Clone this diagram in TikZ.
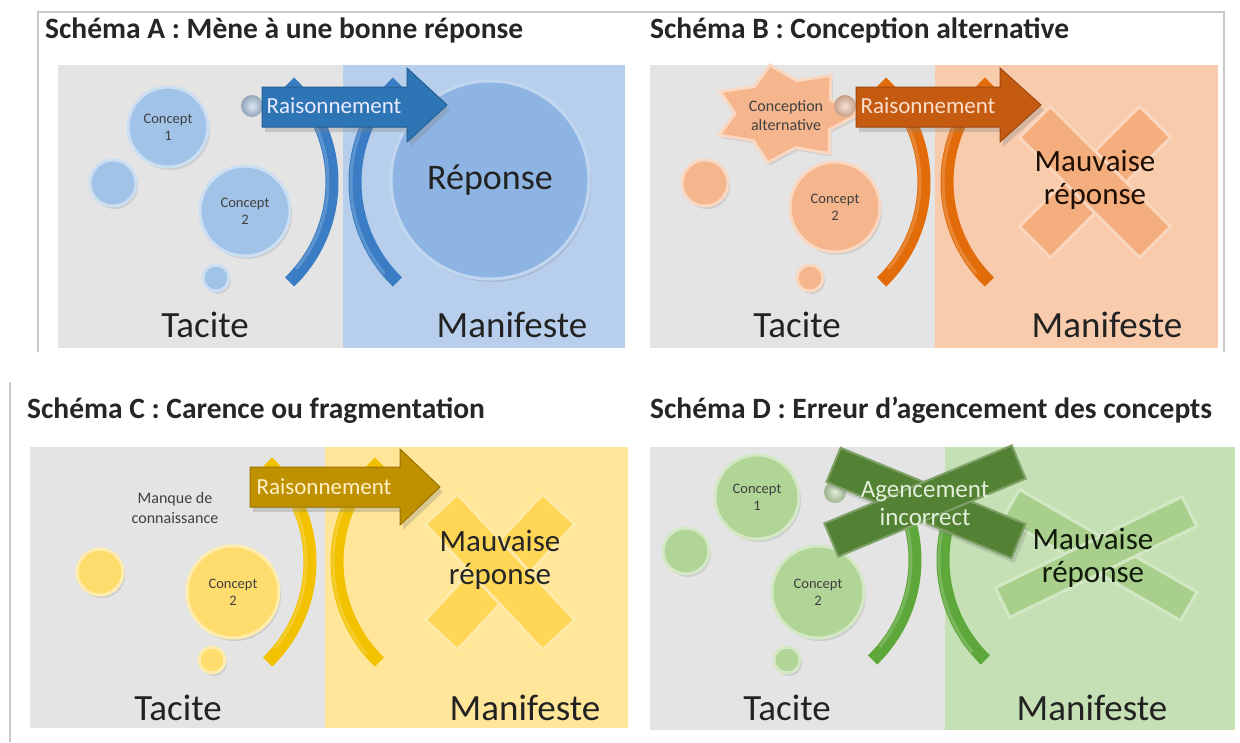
\documentclass[tikz,border=0pt]{standalone}
\usepackage{fontspec}
\setmainfont{Carlito}
\usetikzlibrary{shapes.geometric,shadows}

% pane and frame colours
\definecolor{paneGray}{HTML}{E4E4E4}
\definecolor{frameGray}{HTML}{C9C9C9}
\definecolor{inkDark}{HTML}{222222}
% blue set (A)
\definecolor{bluePane}{HTML}{B7CFEC}
\definecolor{blueBub}{HTML}{A2C3E8}
\definecolor{blueBig}{HTML}{8EB4E3}
\definecolor{blueArrow}{HTML}{2E75B6}
\definecolor{blueBand}{HTML}{3A7DC4}
% orange set (B)
\definecolor{orangePane}{HTML}{F8CBAD}
\definecolor{orangeBub}{HTML}{F5B68E}
\definecolor{orangeArrow}{HTML}{C55A11}
\definecolor{orangeBand}{HTML}{E36C0A}
\definecolor{orangeCross}{HTML}{F4AE7E}
% yellow set (C)
\definecolor{yellowPane}{HTML}{FFE699}
\definecolor{yellowBub}{HTML}{FFDC6E}
\definecolor{yellowArrow}{HTML}{BF9000}
\definecolor{yellowBand}{HTML}{F2C200}
\definecolor{yellowCross}{HTML}{FFD655}
% green set (D)
\definecolor{greenPane}{HTML}{C5E0B4}
\definecolor{greenBub}{HTML}{B0D597}
\definecolor{greenDark}{HTML}{548235}
\definecolor{greenBand}{HTML}{5EA73A}
\definecolor{greenCross}{HTML}{A8D08C}

\newcommand\fs[2]{\fontsize{#1}{#2}\selectfont}

\tikzset{
  frameline/.style={draw=frameGray, line width=1.5},
  pane/.style={fill=#1, draw=none},
  title/.style={anchor=base west, inner sep=0, font=\bfseries\fs{29.5}{33}, text=black!85},
  side/.style={anchor=base, inner sep=0, font=\fs{37}{40}, text=inkDark},
  bubble/.style={circle, inner sep=0, fill=#1, draw=#1!55!white, line width=3,
    drop shadow={opacity=0.22, shadow xshift=2pt, shadow yshift=-3pt}},
  knob/.style={circle, inner sep=0, minimum size=22, shading=radial,
    inner color=#1!35!white, outer color=#1!70!gray},
  small/.style={align=center, inner sep=0, font=\fs{14.5}{17}, text=black!75},
  band/.style={draw=#1, line width=13},
  bandlight/.style={draw=#1!60!white, line width=3, draw opacity=0.45},
  arrowbody/.style={fill=#1, draw=#1!80!black, line width=1,
    drop shadow={opacity=0.3, shadow xshift=3pt, shadow yshift=-5pt}},
  reason/.style={inner sep=0, font=\fs{23}{26}},
  crossbar/.style={rectangle, inner sep=0, fill=#1, draw=#1!50!white, line width=3},
  big/.style={align=center, inner sep=0, font=\fs{31}{33}},
}

\begin{document}
\begin{tikzpicture}[x=1pt, y=-1pt]
\useasboundingbox (0,0) rectangle (1240,742);
\fill[white] (0,0) rectangle (1240,742);

% frames
\draw[frameline] (38,352) -- (38,12) -- (1224,12) -- (1224,352);
\draw[frameline] (10,382) -- (10,742);

% ---------------- Schéma A ----------------
\node[title] (tA) at (45,38) {Schéma A : Mène à une bonne réponse};
\path[pane=paneGray] (58,65) rectangle (343,348);
\path[pane=bluePane] (343,65) rectangle (625,348);
\node[bubble=blueBub, minimum size=46] (aS) at (113,183) {};
\node[bubble=blueBub, minimum size=26] (aT) at (216,278) {};
\node[bubble=blueBub, minimum size=80, small] (aC1) at (168,127) {Concept\\1};
\node[bubble=blueBub, minimum size=90, small] (aC2) at (245,211) {Concept\\2};
\node[bubble=blueBig, minimum size=198, font=\fs{36}{40}, text=inkDark] (aR) at (490,180) {Réponse};
\draw[band=blueBand] (193,182) ++(-46:139) arc[start angle=-46, end angle=46, radius=139];
\draw[bandlight=blueBand] (193,182) ++(-40:135) arc[start angle=-40, end angle=40, radius=135];
\draw[band=blueBand] (494,182) ++(226:139) arc[start angle=226, end angle=134, radius=139];
\draw[bandlight=blueBand] (494,182) ++(220:143) arc[start angle=220, end angle=140, radius=143];
\node[knob=blueBub!80!gray] (aK) at (252,106) {};
\path[arrowbody=blueArrow] (262,87) -- (407,87) -- (407,68) -- (447,105) -- (407,142) -- (407,127) -- (262,127) -- cycle;
\node[reason, text=white!92!blue] (aA) at (334,106) {Raisonnement};
\node[side] (aTac) at (205,337) {Tacite};
\node[side] (aMan) at (512,337) {Manifeste};

% ---------------- Schéma B ----------------
\node[title] (tB) at (650,38) {Schéma B : Conception alternative};
\path[pane=paneGray] (650,65) rectangle (935,348);
\path[pane=orangePane] (935,65) rectangle (1218,348);
\node[crossbar=orangeCross, minimum width=170, minimum height=44, rotate=45] (bX1) at (1095,182) {};
\node[crossbar=orangeCross, minimum width=170, minimum height=44, rotate=-45] (bX2) at (1095,182) {};
\node[bubble=orangeBub, minimum size=46] (bS) at (705,183) {};
\node[bubble=orangeBub, minimum size=26] (bT) at (810,278) {};
\node[bubble=orangeBub, minimum size=90, small] (bC2) at (835,207) {Concept\\2};
\node[star, star points=7, star point ratio=1.45, minimum size=100, xscale=1.45,
  shape border rotate=12, fill=orangeBub, draw=orangeBub!55!white, line width=3,
  drop shadow={opacity=0.22, shadow xshift=2pt, shadow yshift=-3pt}] (bStar) at (785,114) {};
\node[small, font=\fs{16}{19}] (bStarT) at (786,116) {Conception\\alternative};
\draw[band=orangeBand] (785,182) ++(-46:139) arc[start angle=-46, end angle=46, radius=139];
\draw[bandlight=orangeBand] (785,182) ++(-40:135) arc[start angle=-40, end angle=40, radius=135];
\draw[band=orangeBand] (1086,182) ++(226:139) arc[start angle=226, end angle=134, radius=139];
\draw[bandlight=orangeBand] (1086,182) ++(220:143) arc[start angle=220, end angle=140, radius=143];
\node[knob=orangeBub!85!gray] (bK) at (845,106) {};
\path[arrowbody=orangeArrow] (856,87) -- (1000,87) -- (1000,68) -- (1041,105) -- (1000,142) -- (1000,127) -- (856,127) -- cycle;
\node[reason, text=orangePane!60!white] (bA) at (928,106) {Raisonnement};
\node[big, text=black!85!orangeArrow] (bW) at (1095,180) {Mauvaise\\réponse};
\node[side] (bTac) at (797,337) {Tacite};
\node[side] (bMan) at (1107,337) {Manifeste};

% ---------------- Schéma C ----------------
\node[title] (tC) at (27,418) {Schéma C : Carence ou fragmentation};
\path[pane=paneGray] (30,447) rectangle (325,728);
\path[pane=yellowPane] (325,447) rectangle (628,728);
\node[crossbar=yellowCross, minimum width=172, minimum height=44, rotate=47] (cX1) at (500,572) {};
\node[crossbar=yellowCross, minimum width=172, minimum height=44, rotate=-47] (cX2) at (500,572) {};
\node[small, font=\fs{16}{20}] (cM) at (175,508) {Manque de\\connaissance};
\node[bubble=yellowBub, minimum size=46] (cS) at (100,572) {};
\node[bubble=yellowBub, minimum size=26] (cT) at (212,660) {};
\node[bubble=yellowBub, minimum size=92, small] (cC2) at (233,592) {Concept\\2};
\draw[band=yellowBand] (171,562) ++(-46:139) arc[start angle=-46, end angle=46, radius=139];
\draw[bandlight=yellowBand] (171,562) ++(-40:135) arc[start angle=-40, end angle=40, radius=135];
\draw[band=yellowBand] (476,562) ++(226:139) arc[start angle=226, end angle=134, radius=139];
\draw[bandlight=yellowBand] (476,562) ++(220:143) arc[start angle=220, end angle=140, radius=143];
\path[arrowbody=yellowArrow] (250,467) -- (400,467) -- (400,449) -- (440,487) -- (400,525) -- (400,507) -- (250,507) -- cycle;
\node[reason, text=yellowPane!55!white] (cA) at (324,487) {Raisonnement};
\node[big, text=black!85] (cW) at (500,560) {Mauvaise\\réponse};
\node[side] (cTac) at (178,720) {Tacite};
\node[side] (cMan) at (525,720) {Manifeste};

% ---------------- Schéma D ----------------
\node[title] (tD) at (650,418) {Schéma D : Erreur d’agencement des concepts};
\path[pane=paneGray] (650,447) rectangle (945,730);
\path[pane=greenPane] (945,447) rectangle (1235,730);
\node[crossbar=greenCross, minimum width=205, minimum height=33, rotate=-30] (dX1) at (1100,555) {};
\node[crossbar=greenCross, minimum width=208, minimum height=33, rotate=26] (dX2) at (1096,557) {};
\node[bubble=greenBub, minimum size=46] (dS) at (686,551) {};
\node[bubble=greenBub, minimum size=26] (dT) at (787,660) {};
\node[bubble=greenBub, minimum size=84, small] (dC1) at (757,497) {Concept\\1};
\node[bubble=greenBub, minimum size=92, small] (dC2) at (818,592) {Concept\\2};
\node[knob=greenBub!85!gray] (dK) at (835,492) {};
\draw[band=greenBand] (776,560) ++(-30:139) arc[start angle=-30, end angle=46, radius=139];
\draw[bandlight=greenBand] (776,560) ++(-26:135) arc[start angle=-26, end angle=40, radius=135];
\draw[band=greenBand] (1082,560) ++(210:139) arc[start angle=210, end angle=134, radius=139];
\draw[bandlight=greenBand] (1082,560) ++(206:143) arc[start angle=206, end angle=140, radius=143];
\node[crossbar=greenDark, draw=greenDark!75!white, line width=2, minimum width=200, minimum height=37, rotate=-22.4,
  drop shadow={opacity=0.25, shadow xshift=3pt, shadow yshift=-5pt}] (dY1) at (926,503) {};
\node[crossbar=greenDark, draw=greenDark!75!white, line width=2, minimum width=203, minimum height=36, rotate=22.6] (dY2) at (925,501) {};
\node[align=center, inner sep=0, font=\fs{25}{28}, text=greenPane!50!white] (dA) at (925,504) {Agencement\\incorrect};
\node[big, text=black!80!greenDark] (dW) at (1093,558) {Mauvaise\\réponse};
\node[side] (dTac) at (787,720) {Tacite};
\node[side] (dMan) at (1092,720) {Manifeste};
\end{tikzpicture}
\end{document}
